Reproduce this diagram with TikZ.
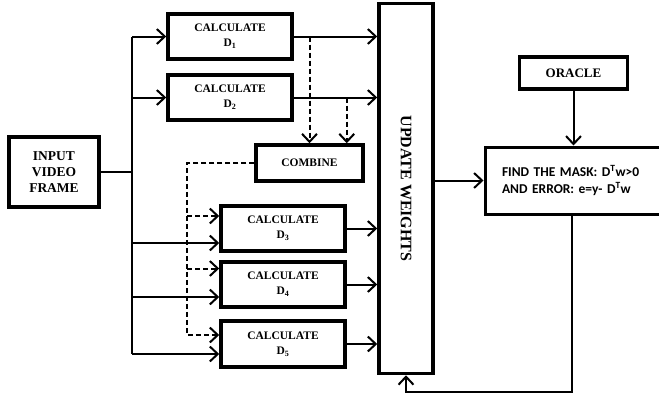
\documentclass[tikz,border=0pt]{standalone}
\usepackage{fontspec}
\setmainfont{Liberation Serif}
\newfontfamily\findfont{Carlito}
\usetikzlibrary{arrows.meta}

\begin{document}
\begin{tikzpicture}[x=1pt, y=-1pt,
    >={Straight Barb[length=8pt,width=15pt]},
    blk/.style={draw, line width=3.5pt, align=center, inner sep=0pt, font=\bfseries\fontsize{11.5}{15}\selectfont},
    link/.style={line width=2pt},
    dashlink/.style={line width=2pt, dash pattern=on 5pt off 3pt}]
    \useasboundingbox (0,0) rectangle (659,399);
    \node[blk, minimum width=90pt, minimum height=70pt, font=\bfseries\fontsize{13.5}{16}\selectfont] (input) at (54,172) {INPUT\\VIDEO\\FRAME};
    \node[blk, minimum width=124pt, minimum height=45pt] (d1) at (230,36.5) {CALCULATE\\D\textsubscript{1}};
    \node[blk, minimum width=124pt, minimum height=45pt] (d2) at (230,97.5) {CALCULATE\\D\textsubscript{2}};
    \node[blk, minimum width=107pt, minimum height=36pt] (combine) at (309.5,163) {COMBINE};
    \node[blk, minimum width=124pt, minimum height=45pt] (d3) at (283,228.5) {CALCULATE\\D\textsubscript{3}};
    \node[blk, minimum width=124pt, minimum height=45pt] (d4) at (283,284.5) {CALCULATE\\D\textsubscript{4}};
    \node[blk, minimum width=124pt, minimum height=46pt] (d5) at (283,344) {CALCULATE\\D\textsubscript{5}};
    \node[blk, rotate=-90, minimum width=370pt, minimum height=54pt, font=\bfseries\fontsize{16}{18}\selectfont] (upd) at (406,188.5) {UPDATE WEIGHTS};
    \node[blk, minimum width=108pt, minimum height=32pt, font=\bfseries\fontsize{13}{15}\selectfont] (oracle) at (573.5,73) {ORACLE};
    \node[blk, line width=3pt, minimum height=67pt, text width=146pt, inner xsep=17pt, align=left, font=\findfont\bfseries\fontsize{13.5}{17}\selectfont] (find) at (575,180.5) {FIND THE MASK: D\textsuperscript{T}w>0\\AND ERROR: e=y- D\textsuperscript{T}w};
    \coordinate (trunk) at (132,172);
    \coordinate (d3in) at ([yshift=-14.5pt]d3.west);
    \coordinate (d4in) at ([yshift=-12.5pt]d4.west);
    \coordinate (d5in) at ([yshift=-10pt]d5.west);
    \coordinate (d3dash) at ([yshift=12.5pt]d3.west);
    \coordinate (d4dash) at ([yshift=16pt]d4.west);
    \coordinate (d5dash) at ([yshift=9pt]d5.west);
    \coordinate (dsplit) at (187,163);
    \coordinate (c2) at ([xshift=-18pt]combine.north east);
    \coordinate (fb) at (572,392);
    \draw[link] (input) -- (trunk);
    \draw[link] (trunk |- d1.west) -- (trunk |- d5in);
    \foreach \n in {d1,d2}
        \draw[link,->] (trunk |- \n.west) -- (\n.west);
    \foreach \n in {d3in,d4in,d5in}
        \draw[link,->] (trunk |- \n) -- (\n);
    \foreach \n in {d1,d2,d3,d4,d5}
        \draw[link,->] (\n.east) -- (\n.east -| upd.south);
    \draw[dashlink,->] (combine.north |- d1.east) -- (combine.north);
    \draw[dashlink,->] (c2 |- d2.east) -- (c2);
    \draw[dashlink,->] (combine.west) -- (dsplit) |- (d5dash);
    \foreach \n in {d3dash,d4dash}
        \draw[dashlink,->] (dsplit |- \n) -- (\n);
    \draw[link,->] (upd.north |- find.west) -- (find.west);
    \draw[link,->] (oracle.south) -- (oracle.south |- find.north);
    \draw[link,->] (fb |- find.south) -- (fb) -| (upd.east);
\end{tikzpicture}
\end{document}
